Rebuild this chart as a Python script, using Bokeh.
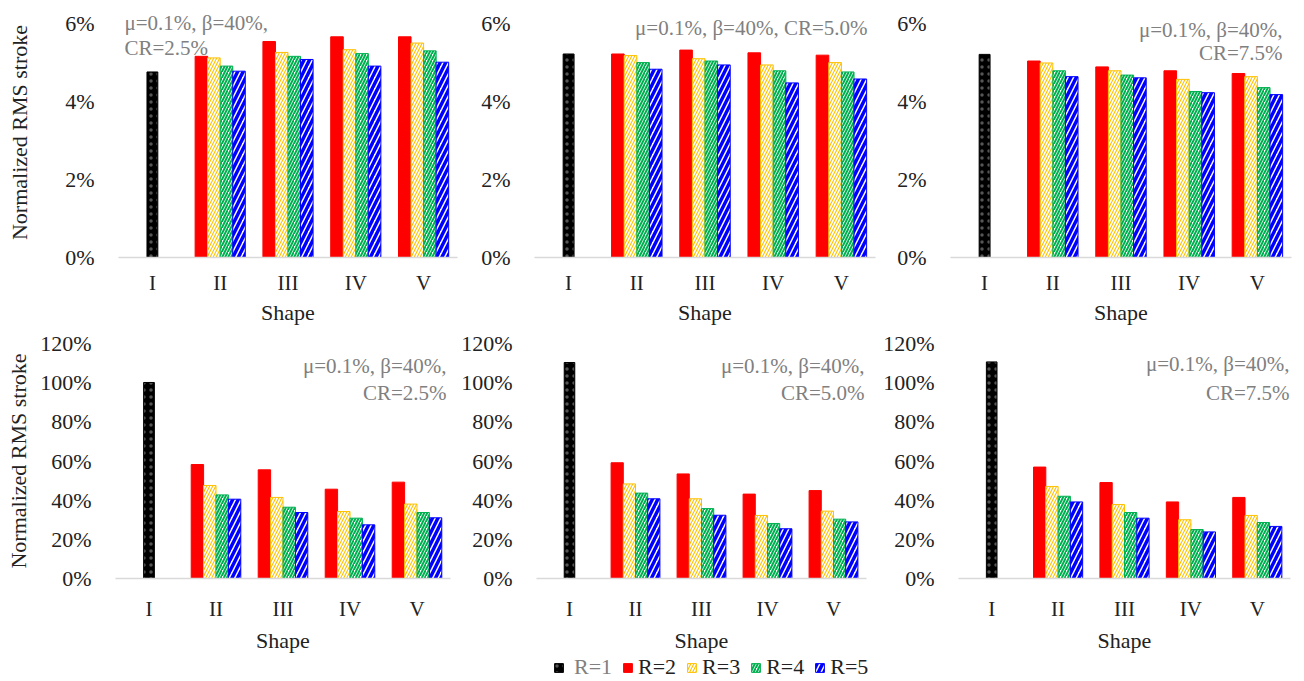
from bokeh.plotting import figure
from bokeh.layouts import column, row
from bokeh.models import (FactorRange, Range1d, Label, Legend, LegendItem,
                          ColumnDataSource, PrintfTickFormatter, FixedTicker)
from bokeh.transform import dodge
from bokeh.embed import file_html
from bokeh.resources import INLINE

# ---------------- data ----------------
shapes = ["I", "II", "III", "IV", "V"]
series = ["R=1", "R=2", "R=3", "R=4", "R=5"]
params_text = "μ=0.1%, β=40%,"
cr_labels = ["CR=2.5%", "CR=5.0%", "CR=7.5%"]

top_ticks = [0, 2, 4, 6]
bottom_ticks = [0, 20, 40, 60, 80, 100, 120]

# Top row (%): R=1 on shape I; R=2..R=5 on shapes II..V; one list per CR (2.5, 5.0, 7.5)
top_r1 = [4.75, 5.21, 5.20]
top_r2 = [[5.15, 5.53, 5.65, 5.65], [5.21, 5.31, 5.24, 5.18], [5.03, 4.88, 4.78, 4.71]]
top_r3 = [[5.11, 5.25, 5.32, 5.49], [5.17, 5.09, 4.93, 4.99], [4.98, 4.78, 4.56, 4.63]]
top_r4 = [[4.90, 5.15, 5.22, 5.29], [4.99, 5.03, 4.78, 4.75], [4.78, 4.67, 4.25, 4.35]]
top_r5 = [[4.77, 5.07, 4.90, 5.00], [4.82, 4.93, 4.47, 4.57], [4.63, 4.60, 4.22, 4.17]]

# Bottom row (%)
bot_r1 = [100.1, 110.3, 110.6]
bot_r2 = [[58.2, 55.5, 45.6, 49.2], [59.1, 53.4, 43.1, 44.9], [56.9, 49.0, 39.1, 41.4]]
bot_r3 = [[47.5, 41.4, 34.2, 38.0], [48.3, 40.7, 32.2, 34.4], [47.0, 37.8, 30.0, 32.2]]
bot_r4 = [[42.7, 36.4, 30.8, 33.7], [43.6, 35.7, 28.1, 30.3], [42.0, 33.7, 25.0, 28.6]]
bot_r5 = [[40.5, 33.7, 27.4, 31.0], [40.7, 32.3, 25.4, 28.9], [39.1, 30.8, 23.8, 26.6]]

# ---------------- styles ----------------
FONT = "Liberation Serif"
TXT = "#222222"
ANN = "#808080"
BW = 0.185
styles = {
    "R=1": dict(fill_color="black", line_color="black", hatch_pattern=".",
                hatch_color="#555555", hatch_scale=7, hatch_weight=0.7),
    "R=2": dict(fill_color="#FF0000", line_color="#FF0000"),
    "R=3": dict(fill_color="white", line_color="#FFC000", hatch_pattern="/",
                hatch_color="#FFC000", hatch_scale=6, hatch_weight=1.1),
    "R=4": dict(fill_color="white", line_color="#00B050", hatch_pattern="/",
                hatch_color="#00B050", hatch_scale=6, hatch_weight=2.0),
    "R=5": dict(fill_color="white", line_color="#0000FF", hatch_pattern="/",
                hatch_color="#0000FF", hatch_scale=11, hatch_weight=3.5),
}


def panel(r1, rest, ticks, yend, w, h, bl, br, bt, bb, ylabel, ylab_standoff,
          xl_standoff, xt_standoff):
    p = figure(x_range=FactorRange(factors=shapes), y_range=Range1d(0, yend),
               width=w, height=h, min_border_left=bl, min_border_right=br,
               min_border_top=bt, min_border_bottom=bb,
               output_backend="svg", toolbar_location=None)
    rs = []
    srcs = []
    src1 = ColumnDataSource(dict(x=shapes[:1], top=[r1]))
    srcs.append(src1)
    rs.append(p.vbar(x="x", top="top", width=0.16, source=src1, **styles["R=1"]))
    for k, vals in enumerate(rest):
        src = ColumnDataSource(dict(x=shapes[1:], top=vals))
        srcs.append(src)
        off = (k - 1.5) * BW
        rs.append(p.vbar(x=dodge("x", off, range=p.x_range), top="top", width=BW,
                         source=src, **styles[series[k + 1]]))
    p.xgrid.visible = False
    p.ygrid.visible = False
    p.outline_line_color = None
    xa = p.xaxis[0]
    ya = p.yaxis[0]
    xa.axis_line_color = "#D9D9D9"
    xa.axis_line_width = 1.5
    xa.major_tick_line_color = None
    xa.minor_tick_line_color = None
    xa.major_label_text_font = FONT
    xa.major_label_text_font_size = "21px"
    xa.major_label_text_color = TXT
    xa.major_label_standoff = xl_standoff
    xa.axis_label = "Shape"
    xa.axis_label_text_font = FONT
    xa.axis_label_text_font_size = "22px"
    xa.axis_label_text_font_style = "normal"
    xa.axis_label_text_color = TXT
    xa.axis_label_standoff = xt_standoff
    ya.axis_line_color = None
    ya.major_tick_line_color = None
    ya.minor_tick_line_color = None
    ya.ticker = FixedTicker(ticks=ticks)
    ya.formatter = PrintfTickFormatter(format="%d%%")
    ya.major_label_text_font = FONT
    ya.major_label_text_font_size = "22px"
    ya.major_label_text_color = TXT
    ya.major_label_standoff = 18
    if ylabel:
        ya.axis_label = "Normalized RMS stroke"
        ya.axis_label_text_font = FONT
        ya.axis_label_text_font_size = "22px"
        ya.axis_label_text_font_style = "normal"
        ya.axis_label_text_color = TXT
        ya.axis_label_standoff = ylab_standoff
    return p, rs, srcs


def ann(p, text, x, y, align, xoff, yoff):
    p.add_layout(Label(x=x, y=y, text=text, text_align=align,
                       text_baseline="middle", x_offset=xoff, y_offset=yoff,
                       text_font=FONT, text_font_size="21px", text_color=ANN))


TOP_H, BOT_H, LEG_H = 330, 325, 25
top_dims = [(465, 118, 8), (415, 69, 5), (422, 70, 11)]
bot_dims = [(458, 115, 8), (422, 74, 14), (422, 74, 12)]

tops, bots, bot_srcs = [], [], []
for i in range(3):
    w, bl, br = top_dims[i]
    rest = [top_r2[i], top_r3[i], top_r4[i], top_r5[i]]
    p, _, _ = panel(top_r1[i], rest, top_ticks, 6.4, w, TOP_H, bl, br, 7, 73,
                    i == 0, 30, 7, 2)
    tops.append(p)
    w, bl, br = bot_dims[i]
    rest = [bot_r2[i], bot_r3[i], bot_r4[i], bot_r5[i]]
    p, rs, srcs = panel(bot_r1[i], rest, bottom_ticks, 120, w, BOT_H, bl, br, 13, 77,
                        i == 0, 6, 12, 4)
    bots.append(p)
    bot_srcs.append(srcs)

# annotations (positioned relative to the top tick of each panel)
ann(tops[0], params_text, 0, 6, "left", 6, 0)
ann(tops[0], cr_labels[0], 0, 6, "left", 6, -25)
ann(tops[1], params_text + " " + cr_labels[1], 5, 6, "right", -8, -5)
ann(tops[2], params_text, 5, 6, "right", -9, -7)
ann(tops[2], cr_labels[2], 5, 6, "right", -9, -30)
ann(bots[0], params_text, 5, 120, "right", -4, -22)
ann(bots[0], cr_labels[0], 5, 120, "right", -4, -49)
ann(bots[1], params_text, 5, 120, "right", -2, -22)
ann(bots[1], cr_labels[1], 5, 120, "right", -2, -49)
ann(bots[2], params_text, 5, 120, "right", -1, -20)
ann(bots[2], cr_labels[2], 5, 120, "right", -1, -49)

# legend strip
pl = figure(x_range=FactorRange(factors=shapes), y_range=Range1d(0, 1),
            width=1302, height=LEG_H, min_border=0, output_backend="svg",
            toolbar_location=None)
pl.axis.visible = False
pl.grid.visible = False
pl.outline_line_color = None
leg_rs = []
for k, src in enumerate(bot_srcs[1]):
    r = pl.vbar(x="x", top="top", width=BW, source=src, **styles[series[k]])
    r.visible = False
    leg_rs.append(r)

common = dict(orientation="horizontal", glyph_width=11, glyph_height=11,
              padding=0, margin=0, border_line_alpha=0, background_fill_alpha=0,
              label_text_font=FONT, label_text_font_size="22px", label_height=20,
              inactive_fill_alpha=0)
legA = Legend(items=[LegendItem(label=series[0], renderers=[leg_rs[0]])],
              location=(553, 0), label_text_color=ANN, label_standoff=10,
              spacing=10, **common)
legB = Legend(items=[LegendItem(label=series[k], renderers=[leg_rs[k]]) for k in range(1, 5)],
              location=(622, 0), label_text_color=TXT, label_standoff=5,
              spacing=10, **common)
pl.add_layout(legA)
pl.add_layout(legB)

layout = column(row(*tops), row(*bots), pl)
open("out.html", "w").write(file_html(layout, INLINE))
